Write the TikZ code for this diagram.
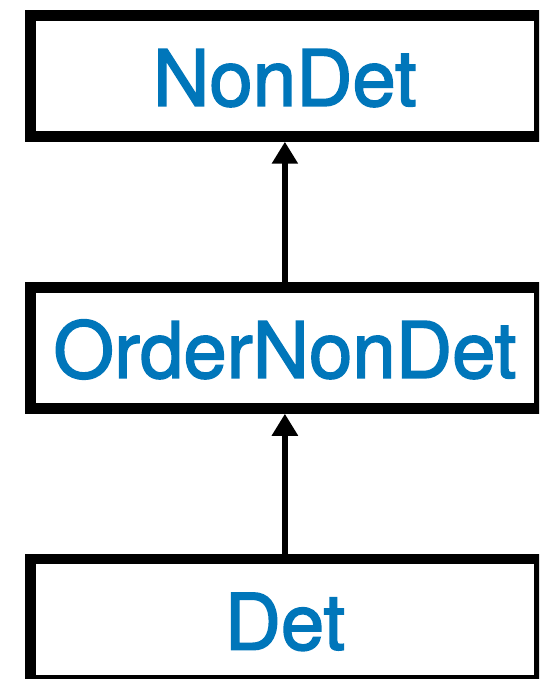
\documentclass[tikz,border=0pt]{standalone}
\usepackage{fontspec}
\setmainfont{TeX Gyre Heros}
\newfontfamily\labelfont[FakeBold=2]{TeX Gyre Heros}
\usetikzlibrary{arrows.meta}
\definecolor{labelblue}{RGB}{0,118,186}
\tikzset{
  classbox/.style={draw=black, line width=10.5pt, fill=white, inner sep=0pt,
    minimum width=508.8pt, minimum height=121.2pt,
    text height=60pt, text depth=0pt, text=labelblue,
    font=\labelfont\fontsize{78pt}{80pt}\selectfont},
  inherit/.style={draw=black, line width=5.5pt, -{Triangle[length=22pt,width=25pt]}}
}
\begin{document}
\begin{tikzpicture}[x=1pt,y=1pt]
\useasboundingbox (0,0) rectangle (539,-679);
\clip (0,0) rectangle (539,-679);
\node[classbox] (nondet) at (284.9,-75.9) {NonDet};
\node[classbox] (order) at (284.9,-347.9) {OrderNonDet};
\node[classbox] (det) at (284.9,-619.7) {Det};
\draw[inherit] (order.north) -- (nondet.south);
\draw[inherit] (det.north) -- (order.south);
\end{tikzpicture}
\end{document}
